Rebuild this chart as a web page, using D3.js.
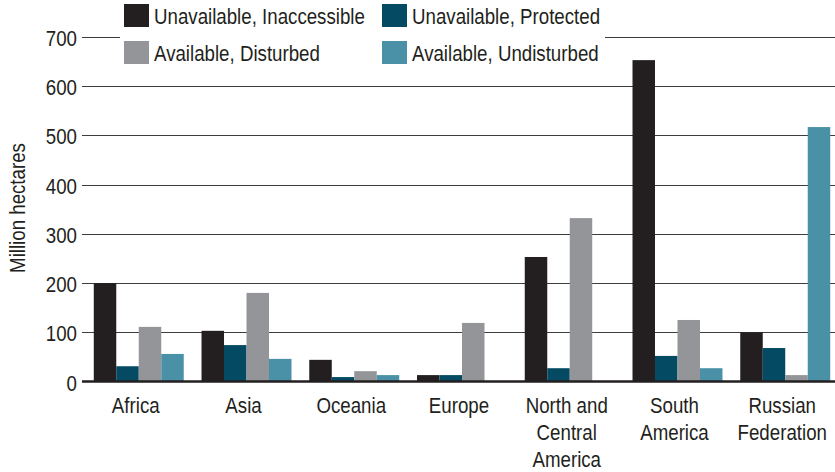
<!DOCTYPE html>
<html>
<head>
<meta charset="utf-8">
<script src="https://cdn.jsdelivr.net/npm/d3@7"></script>
<style>
  html, body { margin: 0; padding: 0; background: #fff; }
  svg { display: block; }
  text { font-family: "Liberation Sans", Arial, sans-serif; fill: #231f20; }
</style>
</head>
<body>
<svg id="chart" width="835" height="472"></svg>
<script>
const categories = ["Africa", "Asia", "Oceania", "Europe", "North and Central America", "South America", "Russian Federation"];
const categoryLines = [["Africa"], ["Asia"], ["Oceania"], ["Europe"], ["North and", "Central", "America"], ["South", "America"], ["Russian", "Federation"]];
const seriesNames = ["Unavailable, Inaccessible", "Unavailable, Protected", "Available, Disturbed", "Available, Undisturbed"];
const unavailableInaccessible = [200, 103, 44, 13, 253, 653, 100];
const unavailableProtected = [31, 74, 9, 13, 27, 52, 68];
const availableDisturbed = [111, 180, 21, 119, 332, 125, 13];
const availableUndisturbed = [56, 46, 13, 0, 0, 27, 517];
const yTicks = [0, 100, 200, 300, 400, 500, 600, 700];
const yTitle = "Million hectares";

const seriesValues = [unavailableInaccessible, unavailableProtected, availableDisturbed, availableUndisturbed];
const colors = ["#231f20", "#034a62", "#939598", "#4a91a7"];
const NARROW = 0.85;

const svg = d3.select("#chart");
const x0 = d3.scaleBand().domain(categories).range([83, 841]).paddingInner(0.165).paddingOuter(0.1);
const x1 = d3.scaleBand().domain(seriesNames).range([0, x0.bandwidth()]);
const y = d3.scaleLinear().domain([0, 700]).range([381.5, 37]);
const color = d3.scaleOrdinal().domain(seriesNames).range(colors);

// gridlines
svg.append("g").selectAll("line").data(yTicks.filter(d => d > 0)).join("line")
  .attr("x1", 82).attr("x2", 835)
  .attr("y1", d => Math.round(y(d)) + 0.5).attr("y2", d => Math.round(y(d)) + 0.5)
  .attr("stroke", "#3d3d3d").attr("stroke-width", 1.2);

// y tick labels
svg.append("g").selectAll("text").data(yTicks).join("text")
  .attr("transform", d => `translate(77,${y(d) + 1.5}) scale(${NARROW},1)`)
  .attr("text-anchor", "end").attr("dominant-baseline", "central")
  .attr("font-size", 22).text(d => d);

// y title
svg.append("text")
  .attr("transform", `translate(25,208) rotate(-90) scale(${NARROW},1)`)
  .attr("text-anchor", "middle")
  .attr("font-size", 22).text(yTitle);

// bars
const groups = svg.append("g").selectAll("g").data(categories).join("g")
  .attr("transform", d => `translate(${x0(d)},0)`);
groups.selectAll("rect").data((d, i) => seriesNames.map((s, j) => ({ s, v: seriesValues[j][i] }))).join("rect")
  .attr("x", d => x1(d.s)).attr("width", x1.bandwidth())
  .attr("y", d => y(d.v)).attr("height", d => y(0) - y(d.v))
  .attr("fill", d => color(d.s));

// baseline
svg.append("line").attr("x1", 82).attr("x2", 835).attr("y1", y(0)).attr("y2", y(0))
  .attr("stroke", "#231f20").attr("stroke-width", 2.4);

// x labels
const xl = svg.append("g").selectAll("text").data(categories).join("text")
  .attr("transform", d => `translate(${x0(d) + x0.bandwidth() / 2 - 3},413) scale(${NARROW},1)`)
  .attr("text-anchor", "middle").attr("font-size", 22);
xl.selectAll("tspan").data((d, i) => categoryLines[i]).join("tspan")
  .attr("x", 0)
  .attr("dy", (d, i) => i === 0 ? 0 : 27).text(d => d);

// legend
const leg = svg.append("g");
leg.append("rect").attr("x", 120).attr("y", 0).attr("width", 485).attr("height", 70).attr("fill", "#fff");
const legPos = [[124, 4], [382, 4], [124, 41], [382, 41]];
const li = leg.selectAll("g").data(seriesNames).join("g")
  .attr("transform", (d, i) => `translate(${legPos[i][0]},${legPos[i][1]})`);
li.append("rect").attr("width", 25).attr("height", 23).attr("fill", d => color(d));
li.append("text").attr("transform", `translate(30,20) scale(${NARROW},1)`).attr("font-size", 22).text(d => d);
</script>
</body>
</html>
